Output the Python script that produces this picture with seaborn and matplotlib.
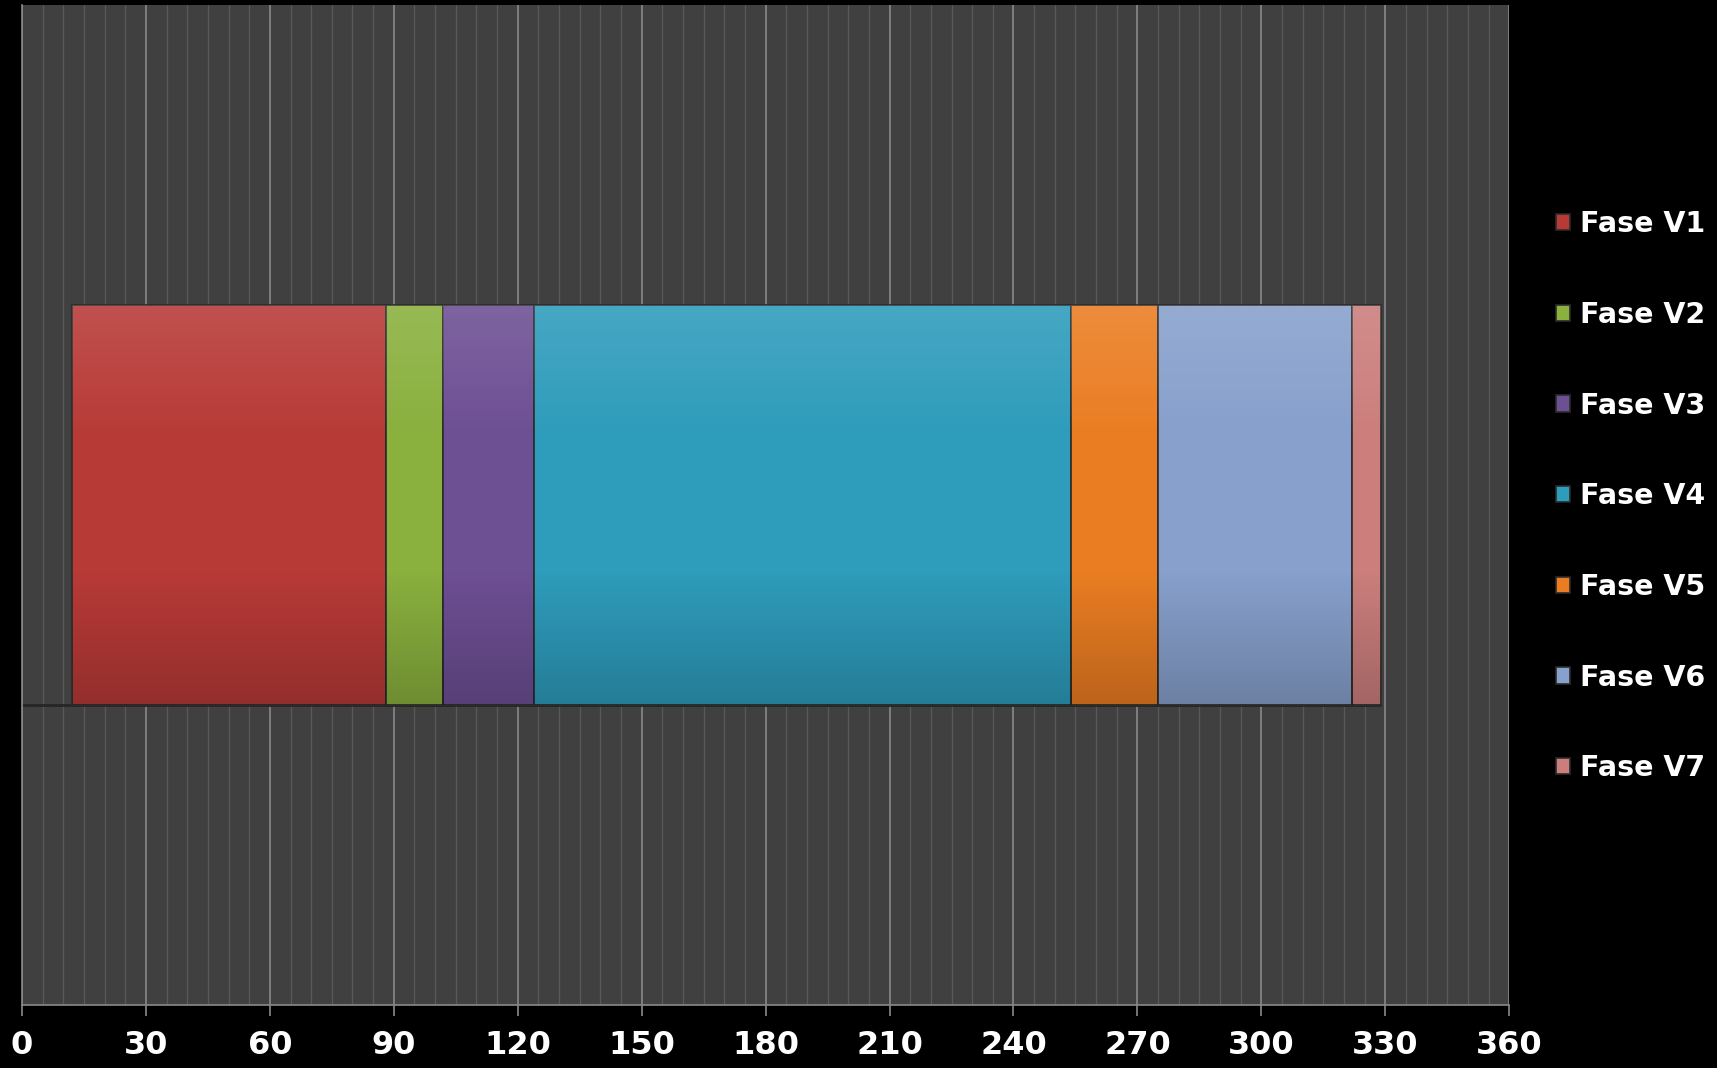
import numpy as np
import seaborn as sns
import matplotlib.pyplot as plt
from matplotlib.colors import LinearSegmentedColormap
from matplotlib.ticker import MultipleLocator

# data (degrees)
phases = ["Fase V1", "Fase V2", "Fase V3", "Fase V4", "Fase V5", "Fase V6", "Fase V7"]
start = 12
durations = [76, 14, 22, 130, 21, 47, 7]
colors = ["#B83A37", "#8AB03E", "#6D4F94", "#2E9CBB", "#EA7D22", "#87A0CC", "#CB7E7C"]
row = ["fasi"]

sns.set_theme(style="dark")
plt.rcParams["font.family"] = ["DejaVu Sans"]

fig = plt.figure(figsize=(17.17, 10.68), dpi=100)
fig.patch.set_facecolor("black")
ax = fig.add_axes([0.0128, 0.059, 0.8662, 0.9365])
ax.set_facecolor("#404040")

# stacked horizontal bars, one seaborn call per phase
left = start
for name, dur, col in zip(phases, durations, colors):
    sns.barplot(x=[dur], y=row, orient="h", color=col, saturation=1, width=0.4,
                left=left, label=name, edgecolor="#2b2b2b", linewidth=1.2,
                zorder=3, ax=ax)
    left += dur
if ax.get_legend() is not None:
    ax.get_legend().remove()

# soft vertical shading on each bar (light top, darker bottom)
shade = LinearSegmentedColormap.from_list(
    "shade", [(1, 1, 1, 0.12), (1, 1, 1, 0.0), (0, 0, 0, 0.0), (0, 0, 0, 0.2)])
grad = np.linspace(0, 1, 256).reshape(-1, 1)
for p in ax.patches:
    x0, y0, w, h = p.get_x(), p.get_y(), p.get_width(), p.get_height()
    im = ax.imshow(grad, cmap=shade, aspect="auto", zorder=4,
                   extent=(x0, x0 + w, y0 + h, y0), interpolation="bicubic")
    im.set_clip_path(p)

# shadow line under the stack
ax.hlines(0.2, 0, start + sum(durations), color="#262626", lw=2, zorder=2)

ax.set_xlim(0, 360)
ax.set_ylim(0.5, -0.5)
ax.set_aspect("auto")
ax.xaxis.set_major_locator(MultipleLocator(30))
ax.xaxis.set_minor_locator(MultipleLocator(5))
ax.grid(which="major", axis="x", color="#8f8f8f", lw=1.1, zorder=0)
ax.grid(which="minor", axis="x", color="#595959", lw=0.9, zorder=0)
ax.grid(axis="y", visible=False)
ax.set_axisbelow(True)
ax.set_yticks([])
ax.set_xlabel("")
ax.set_ylabel("")

for s in ["top", "right"]:
    ax.spines[s].set_visible(False)
for s in ["bottom", "left"]:
    ax.spines[s].set_visible(True)
    ax.spines[s].set_color("#8a8a8a")
    ax.spines[s].set_linewidth(1.2)

ax.tick_params(axis="x", which="major", bottom=True, length=8, width=1.2,
               color="#8a8a8a", pad=10, labelsize=23, labelcolor="white")
ax.tick_params(axis="x", which="minor", bottom=False)
for lab in ax.get_xticklabels():
    lab.set_fontweight("bold")

handles, labels = ax.get_legend_handles_labels()
leg = fig.legend(handles, labels, loc="upper left", bbox_to_anchor=(0.906, 0.803),
                 frameon=False, fontsize=20.5, labelspacing=2.2, handlelength=0.5,
                 handleheight=0.5, handletextpad=0.35, borderpad=0, borderaxespad=0)
for t in leg.get_texts():
    t.set_color("white")
    t.set_fontweight("bold")

fig.savefig("out.png", dpi=100, facecolor=fig.get_facecolor())
